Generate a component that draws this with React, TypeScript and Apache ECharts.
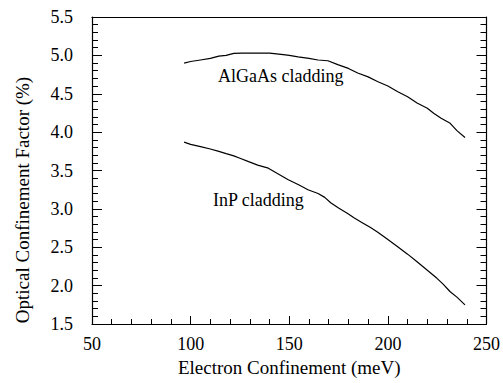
import React, { useEffect, useRef } from "react";
import * as echarts from "echarts";

const algaasX = [96.7, 100, 105, 110, 114.3, 118, 121.9, 126, 130, 135, 140, 147, 150, 154.5, 160, 164.6, 169.6, 174.6, 180, 184.7, 190, 194.7, 200, 204.8, 210, 214.8, 220, 223.2, 227, 231.6, 235, 239.1];
const algaasY = [4.9, 4.92, 4.94, 4.96, 4.99, 5.0, 5.025, 5.03, 5.03, 5.03, 5.03, 5.01, 5.0, 4.98, 4.96, 4.94, 4.93, 4.88, 4.83, 4.77, 4.72, 4.66, 4.6, 4.53, 4.46, 4.38, 4.31, 4.245, 4.18, 4.115, 4.02, 3.93];

const inpX = [96.7, 100, 105, 110, 114.3, 118, 121.9, 125, 129.4, 134, 139.4, 144, 149.5, 155, 159.5, 164.6, 168, 171, 175, 179.6, 183, 187, 191, 194.7, 200, 204.8, 210, 214.8, 220, 224.9, 228, 231.6, 235, 239.1];
const inpY = [3.87, 3.84, 3.81, 3.78, 3.75, 3.72, 3.69, 3.66, 3.615, 3.57, 3.53, 3.46, 3.38, 3.31, 3.25, 3.2, 3.15, 3.08, 3.01, 2.94, 2.88, 2.82, 2.76, 2.7, 2.6, 2.51, 2.41, 2.31, 2.2, 2.095, 2.02, 1.92, 1.85, 1.75];

const seriesNames = ["AlGaAs cladding", "InP cladding"];
const xTitle = "Electron Confinement (meV)";
const yTitle = "Optical Confinement Factor (%)";

const FONT = "Liberation Serif";

export default function App() {
  const ref = useRef<HTMLDivElement>(null);
  useEffect(() => {
    if (!ref.current) return;
    const chart = echarts.init(ref.current, null, { renderer: "svg" });
    const pair = (xs: number[], ys: number[]) => xs.map((x, i) => [x, ys[i]]);
    const axisLine = { show: true, lineStyle: { color: "#000", width: 1.2 } };
    chart.setOption({
      animation: false,
      backgroundColor: "#fff",
      grid: { left: 92, right: 13, top: 17, bottom: 59 },
      xAxis: [
        {
          type: "value",
          min: 50,
          max: 250,
          interval: 50,
          position: "bottom",
          name: xTitle,
          nameLocation: "middle",
          nameGap: 34,
          nameTextStyle: { fontFamily: FONT, fontSize: 19, color: "#000" },
          axisLine,
          axisTick: { show: true, inside: true, length: 8, lineStyle: { color: "#000" } },
          minorTick: { show: true, splitNumber: 5, length: 5, lineStyle: { color: "#000" } },
          axisLabel: { fontFamily: FONT, fontSize: 18, color: "#000", margin: 11 },
          splitLine: { show: false },
        },
        {
          type: "value",
          min: 50,
          max: 250,
          interval: 50,
          position: "top",
          axisLine,
          axisTick: { show: false },
          axisLabel: { show: false },
          splitLine: { show: false },
        },
      ],
      yAxis: [
        {
          type: "value",
          min: 1.5,
          max: 5.5,
          interval: 0.5,
          position: "left",
          axisLine,
          axisTick: { show: true, inside: true, length: 10, lineStyle: { color: "#000" } },
          minorTick: { show: true, splitNumber: 5, length: 6, lineStyle: { color: "#000" } },
          axisLabel: { fontFamily: FONT, fontSize: 18, color: "#000", margin: 19, formatter: (v: number) => v.toFixed(1) },
          splitLine: { show: false },
        },
        {
          type: "value",
          min: 1.5,
          max: 5.5,
          interval: 0.5,
          position: "right",
          axisLine,
          axisTick: { show: true, inside: true, length: 10, lineStyle: { color: "#000" } },
          minorTick: { show: true, splitNumber: 5, length: 6, lineStyle: { color: "#000" } },
          axisLabel: { show: false },
          splitLine: { show: false },
        },
      ],
      series: [
        {
          name: seriesNames[0],
          type: "line",
          data: pair(algaasX, algaasY),
          showSymbol: false,
          lineStyle: { color: "#000", width: 1.2 },
          xAxisIndex: 0,
          yAxisIndex: 0,
        },
        {
          name: seriesNames[1],
          type: "line",
          data: pair(inpX, inpY),
          showSymbol: false,
          lineStyle: { color: "#000", width: 1.2 },
          xAxisIndex: 0,
          yAxisIndex: 0,
        },
      ],
      graphic: [
        {
          type: "text",
          x: 22,
          y: 200,
          rotation: Math.PI / 2,
          style: { text: yTitle, fontFamily: FONT, fontSize: 19, fill: "#000", textAlign: "center", textVerticalAlign: "middle" },
        },
        {
          type: "text",
          left: 218,
          top: 67,
          style: { text: seriesNames[0], fontFamily: FONT, fontSize: 18, fill: "#000" },
        },
        {
          type: "text",
          left: 213,
          top: 191,
          style: { text: seriesNames[1], fontFamily: FONT, fontSize: 18, fill: "#000" },
        },
      ],
    });
    return () => chart.dispose();
  }, []);
  return <div ref={ref} style={{ width: 503, height: 383, position: "absolute", left: 0, top: 0 }} />;
}
